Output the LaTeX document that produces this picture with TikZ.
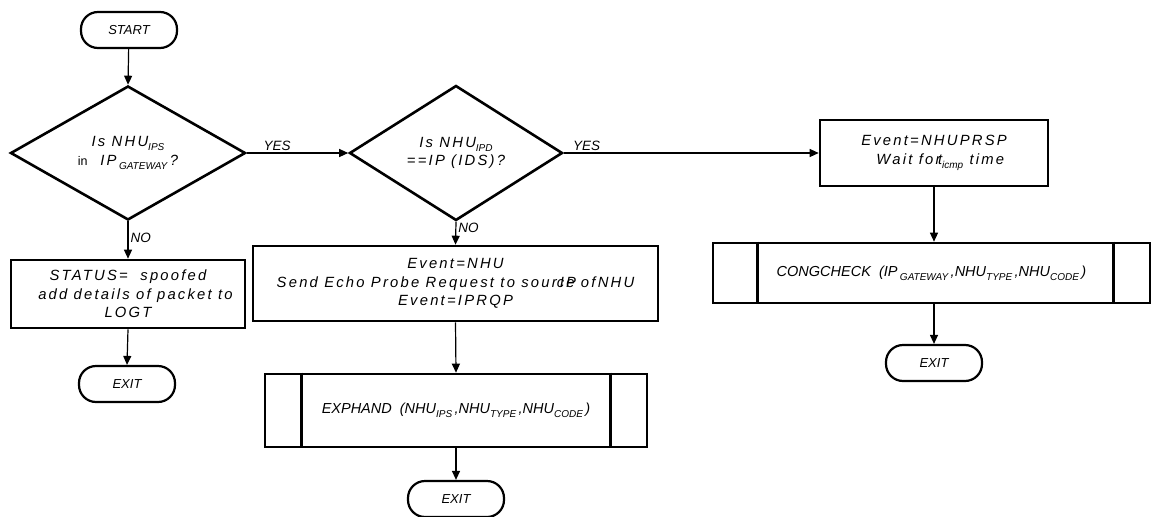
\documentclass[tikz,border=0pt]{standalone}
\usepackage{fontspec}
\usetikzlibrary{shapes.geometric,arrows.meta,calc}
\newfontfamily\flowfont[LetterSpace=15]{Liberation Sans}
\newfontfamily\flowplain{Liberation Sans}
% lowered, smaller index text (NHU_IPS, IP_GATEWAY, ...)
\newcommand\lowidx[1]{\raisebox{-4pt}{\flowplain\itshape\fontsize{10}{10}\selectfont #1}}
\begin{document}
\begin{tikzpicture}[x=1pt,y=-1pt,
  txt/.style={text=black, font=\flowfont\itshape\fontsize{14.8}{18.5}\selectfont, align=center},
  terminal/.style={txt, draw=black, line width=2.2pt, rounded corners=17pt,
    minimum width=96pt, minimum height=36pt, inner sep=0pt,
    font=\flowplain\itshape\fontsize{13}{14}\selectfont},
  process/.style={txt, draw=black, line width=2.6pt, inner sep=0pt},
  decision/.style={txt, draw=black, diamond, line width=2.6pt, inner sep=0pt, aspect=1.7},
  flow/.style={-{Triangle[length=9pt,width=8pt]}, line width=1.2pt},
  lbl/.style={text=black, font=\flowplain\itshape\fontsize{13.5}{14}\selectfont, inner sep=2pt}
]
\useasboundingbox (0,0) rectangle (1152,517);

% terminals
\node[terminal] (start) at (129,30) {START};
\node[terminal] (exitA) at (127,384) {EXIT};
\node[terminal] (exitB) at (456,499) {EXIT};
\node[terminal] (exitC) at (934,363) {EXIT};

% decisions
\node[decision, minimum width=235pt, minimum height=134pt] (d1) at (128,153)
  {Is NHU\lowidx{IPS}\\[1pt]{\flowplain\upshape\fontsize{12.5}{12}\selectfont in}\ \ IP\,\lowidx{GATEWAY}\,?};
\node[decision, minimum width=213pt, minimum height=135pt] (d2) at (456,153)
  {Is NHU\lowidx{IPD}\\={}=IP (IDS)?};

% processes
\node[process, minimum width=234pt, minimum height=68pt] (status) at (128,294)
  {STATUS=\ \ spoofed\\\hspace*{15pt}add details of packet to\\LOGT};
\node[process, minimum width=405pt, minimum height=75pt] (probe) at (455.5,283.5)
  {Event=NHU\\Send Echo Probe Request to sour\rlap{\kern3pt IP}ce ofNHU\\Event=IPRQP};
\node[process, minimum width=228pt, minimum height=66pt] (wait) at (934,153)
  {Event=NHUPRSP\\\ \ Wait for\kern-2.5pt t\lowidx{icmp} time};

% predefined processes (subroutine boxes)
\node[process, minimum width=382pt, minimum height=73pt] (exphand) at (456,410.5)
  {{\flowplain\fontsize{14.5}{18}\selectfont EXPHAND\ \ (NHU\lowidx{IPS}\,,NHU\lowidx{TYPE}\,,NHU\lowidx{CODE}\,)}};
\draw[line width=2.6pt] ($(exphand.north west)+(38,0)$) -- ($(exphand.south west)+(38,0)$)
  ($(exphand.north east)+(-38,0)$) -- ($(exphand.south east)+(-38,0)$);
\node[process, minimum width=437pt, minimum height=60pt] (cong) at (931.5,273)
  {{\flowplain\fontsize{14.5}{18}\selectfont CONGCHECK\ \ (IP\,\lowidx{GATEWAY}\,,NHU\lowidx{TYPE}\,,NHU\lowidx{CODE}\,)}};
\draw[line width=2.6pt] ($(cong.north west)+(46,0)$) -- ($(cong.south west)+(46,0)$)
  ($(cong.north east)+(-38,0)$) -- ($(cong.south east)+(-38,0)$);

% connectors
\draw[flow] (start) -- (d1.north);
\draw[flow] (d1.east) -- node[lbl, above, pos=0.3] (yesA) {YES} (d2.west);
\draw[flow] (d2.east) -- node[lbl, above, pos=0.09] (yesB) {YES} (wait.west);
\draw[flow] (d1.south) -- node[lbl, right, pos=0.45] (noA) {NO} (status.north);
\draw[flow] (d2.south) -- node[lbl, right, pos=0.25] (noB) {NO} (probe.north);
\draw[flow] (status.south) -- (exitA.north);
\draw[flow] (probe.south) -- (exphand.north);
\draw[flow] (exphand.south) -- (exitB.north);
\draw[flow] (wait.south) -- (cong.north -| wait.south);
\draw[flow] (cong.south -| exitC.north) -- (exitC.north);
\end{tikzpicture}
\end{document}
